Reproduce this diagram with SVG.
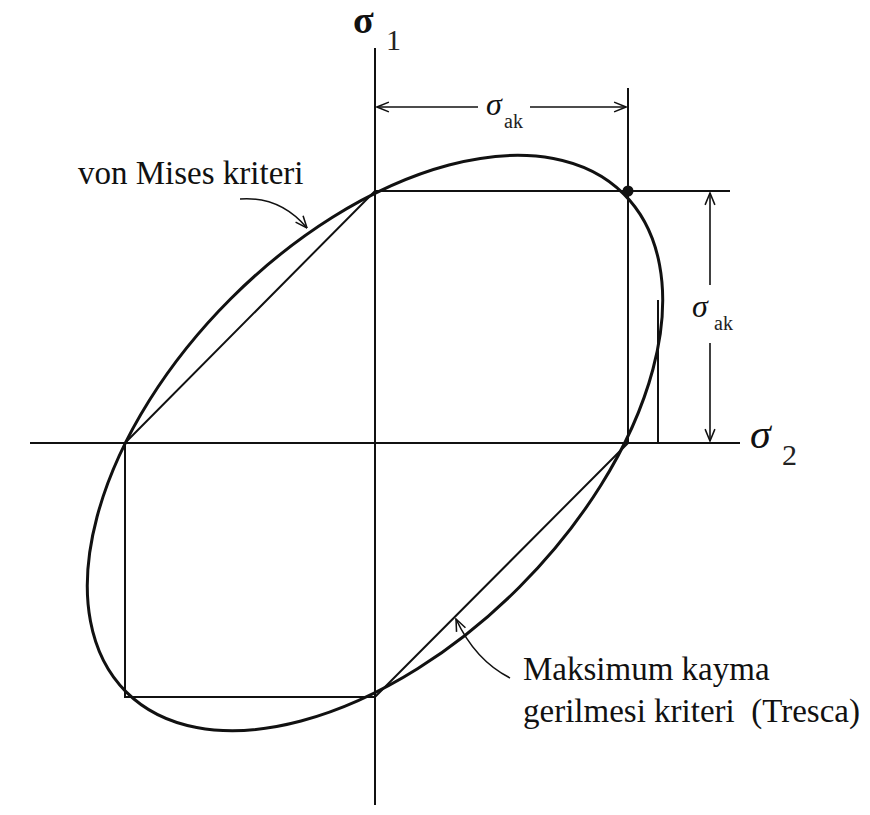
<svg xmlns="http://www.w3.org/2000/svg" width="870" height="815" viewBox="0 0 870 815">
<defs>
<style>
.ax{stroke:#111;stroke-width:2;fill:none}
.thin{stroke:#111;stroke-width:1.6;fill:none}
.curve{stroke:#111;stroke-width:3;fill:none}
.lbl{font-family:"Liberation Serif","Times New Roman",serif;font-size:33px;fill:#111}
.sig{font-family:"Liberation Serif","Times New Roman",serif;font-style:italic;fill:#111}
.sub{font-family:"Liberation Serif","Times New Roman",serif;fill:#222}
</style>
<marker id="ah" viewBox="0 0 20 20" refX="19" refY="10" markerWidth="14" markerHeight="14" markerUnits="userSpaceOnUse" orient="auto-start-reverse">
<path d="M2,3 L19,10 L2,17" fill="none" stroke="#111" stroke-width="2.2"/>
</marker>
</defs>
<rect width="870" height="815" fill="#fff"/>
<g id="axes">
<line class="ax" x1="375" y1="48" x2="375" y2="805"/>
<line class="ax" x1="30" y1="443" x2="740" y2="443"/>
</g>
<g id="tresca">
<polyline class="ax" points="125,443 375,191 628,191 628,443 375,697 125,697 125,443"/>
<line class="ax" x1="628" y1="191" x2="730" y2="191"/>
<line class="ax" x1="628" y1="88" x2="628" y2="191"/>
</g>
<g id="vonmises">
<ellipse class="curve" cx="375" cy="443" rx="352" ry="204" transform="rotate(-45 375 443)"/>
<line class="ax" x1="658" y1="300" x2="658" y2="443"/>
<circle cx="628" cy="191" r="5.5" fill="#111"/>
</g>
<g id="connectors">
<line class="thin" x1="478" y1="107" x2="377" y2="107" marker-end="url(#ah)"/>
<line class="thin" x1="530" y1="107" x2="626" y2="107" marker-end="url(#ah)"/>
<line class="thin" x1="710" y1="285" x2="710" y2="193" marker-end="url(#ah)"/>
<line class="thin" x1="710" y1="343" x2="710" y2="441" marker-end="url(#ah)"/>
<path class="thin" d="M240,199 Q280,196 307,228" marker-end="url(#ah)"/>
<path class="thin" d="M510,678 Q475,660 456,619" marker-end="url(#ah)"/>
</g>
<g id="labels">
<text x="353" y="33" font-family="Liberation Serif, serif" font-weight="bold" font-size="38" fill="#111">σ</text>
<text x="386" y="50" class="sub" font-size="30" fill="#333">1</text>
<text x="486" y="115" class="sig" font-size="32">σ</text>
<text x="504" y="128" class="sub" font-size="20">ak</text>
<text x="692" y="317" class="sig" font-size="32">σ</text>
<text x="714" y="330" class="sub" font-size="20">ak</text>
<text x="750" y="448" class="sig" font-size="42">σ</text>
<text x="782" y="465" class="sub" font-size="30">2</text>
<text x="78" y="184" class="lbl">von Mises kriteri</text>
<text x="523" y="680" class="lbl">Maksimum kayma</text>
<text x="523" y="722" class="lbl" xml:space="preserve">gerilmesi kriteri  (Tresca)</text>
</g>
</svg>
